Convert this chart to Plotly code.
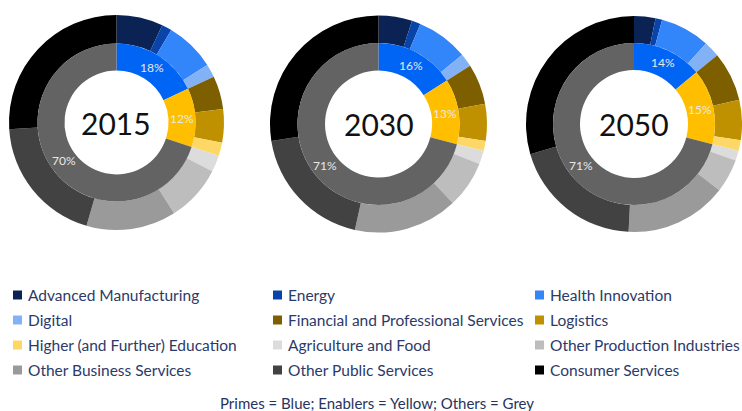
import math
import plotly.graph_objects as go

W, H = 742, 411

YEARS = ['2015', '2030', '2050']

SECTORS = [
    'Advanced Manufacturing', 'Energy', 'Health Innovation',
    'Digital', 'Financial and Professional Services', 'Logistics',
    'Higher (and Further) Education', 'Agriculture and Food', 'Other Production Industries',
    'Other Business Services', 'Other Public Services', 'Consumer Services',
]
SECTOR_COLORS = [
    '#0b2354', '#0a44a8', '#3385fa',
    '#82b2f5', '#7d5f00', '#bf9000',
    '#fdd867', '#dcdcdc', '#bdbdbd',
    '#9a9a9a', '#424242', '#000000',
]

# outer ring shares (%)
SHARE_2015 = [7.0, 1.5, 7.5, 2.0, 5.0, 5.0, 2.0, 2.5, 8.5, 13.5, 19.5, 26.0]
SHARE_2030 = [5.0, 1.3, 7.7, 2.0, 6.0, 5.5, 1.5, 2.0, 7.0, 15.5, 19.0, 27.5]
SHARE_2050 = [3.2, 1.0, 7.4, 2.4, 7.4, 6.0, 1.6, 1.5, 5.0, 15.3, 19.7, 29.5]

GROUPS = ['Primes', 'Enablers', 'Others']
GROUP_COLORS = ['#0064f5', '#ffbf00', '#636363']
GROUP_2015 = [18, 12, 70]
GROUP_2030 = [16, 13, 71]
GROUP_2050 = [14, 15, 71]

# donut centres / radii in pixels (cx, cy, outer r, inner ring r, hole r)
GEOM = [
    (116.5, 122.5, 107.5, 79, 52),
    (378.5, 124, 108.5, 81, 53.5),
    (634, 124, 108, 81, 54),
]

# legend grid (pixels): swatch left edge per column, row centres
LEG_COLS = [13, 273, 535]
LEG_ROWS = [295, 320, 345, 370]

FONT = 'Lato, "Open Sans", sans-serif'
NAVY = '#2b3a6a'


def px(x):
    return x / W


def py(y):
    return 1 - y / H


def dom(cx, cy, r):
    return dict(x=[px(cx - r), px(cx + r)], y=[py(cy + r), py(cy - r)])


fig = go.Figure()
annotations = []
shapes = []
for i, (year, shares, groups) in enumerate(zip(
        YEARS, [SHARE_2015, SHARE_2030, SHARE_2050],
        [GROUP_2015, GROUP_2030, GROUP_2050])):
    cx, cy, r_out, r_in, r_hole = GEOM[i]
    fig.add_trace(go.Pie(
        labels=SECTORS, values=shares, sort=False, direction='clockwise',
        domain=dom(cx, cy, r_out), hole=r_in / r_out,
        marker=dict(colors=SECTOR_COLORS, line=dict(width=0)),
        textinfo='none', showlegend=False, hoverinfo='label+value',
    ))
    fig.add_trace(go.Pie(
        labels=GROUPS, values=groups, sort=False, direction='clockwise',
        domain=dom(cx, cy, r_in), hole=r_hole / r_in,
        marker=dict(colors=GROUP_COLORS, line=dict(width=0)),
        textinfo='none', showlegend=False, hoverinfo='label+percent',
    ))
    # group share labels at the middle of each inner-ring slice
    total = sum(groups)
    r_mid = (r_in + r_hole) / 2
    acc = 0
    for v in groups:
        ang = 2 * math.pi * (acc + v / 2) / total
        acc += v
        annotations.append(dict(
            text=f'{v}%', x=px(cx + r_mid * math.sin(ang)), y=py(cy - r_mid * math.cos(ang)),
            xref='paper', yref='paper', xanchor='center', yanchor='middle', showarrow=False,
            font=dict(family=FONT, size=12, color='#e8e8e8'),
        ))
    annotations.append(dict(
        text=year, x=px(cx), y=py(cy), xref='paper', yref='paper',
        xanchor='center', yanchor='middle', showarrow=False,
        font=dict(family=FONT, size=30, color='#111111'),
    ))

# legend, laid out row by row in three columns
for k, (name, color) in enumerate(zip(SECTORS, SECTOR_COLORS)):
    x0 = LEG_COLS[k % 3]
    yc = LEG_ROWS[k // 3]
    shapes.append(dict(
        type='rect', xref='paper', yref='paper',
        x0=px(x0), x1=px(x0 + 9), y0=py(yc + 4.5), y1=py(yc - 4.5),
        fillcolor=color, line=dict(width=0),
    ))
    annotations.append(dict(
        text=name, x=px(x0 + 13), y=py(yc), xref='paper', yref='paper',
        xanchor='left', yanchor='middle', showarrow=False,
        font=dict(family=FONT, size=15.5, color=NAVY),
    ))

annotations.append(dict(
    text='Primes = Blue; Enablers = Yellow; Others = Grey',
    x=px(377), y=py(403), xref='paper', yref='paper',
    xanchor='center', yanchor='middle', showarrow=False,
    font=dict(family=FONT, size=15, color='#27345e'),
))

fig.update_layout(
    width=W, height=H,
    paper_bgcolor='white', plot_bgcolor='white',
    margin=dict(l=0, r=0, t=0, b=0, autoexpand=False),
    font=dict(family=FONT, color=NAVY),
    showlegend=False,
    annotations=annotations,
    shapes=shapes,
)

fig.write_html('out.html', post_script="document.body.style.margin='0';",
               config={'displayModeBar': False})
